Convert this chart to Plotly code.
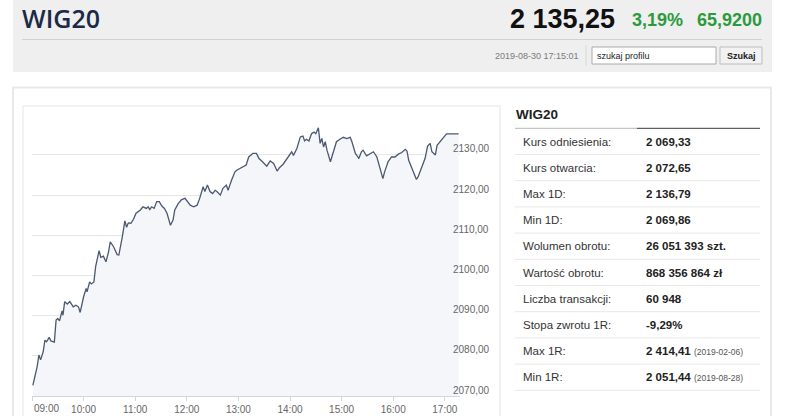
import plotly.graph_objects as go

# intraday WIG20 quotes
times = [
    '09:01', '09:05', '09:06', '09:08', '09:10', '09:13', '09:15', '09:17', '09:20', '09:22',
    '09:26', '09:28', '09:30', '09:32', '09:35', '09:36', '09:38', '09:41', '09:44', '09:48',
    '09:51', '09:54', '09:56', '10:00', '10:03', '10:04', '10:07', '10:09', '10:12', '10:14',
    '10:18', '10:20', '10:23', '10:26', '10:29', '10:31', '10:35', '10:39', '10:41', '10:45',
    '10:48', '10:50', '10:52', '10:55', '10:58', '11:01', '11:04', '11:06', '11:09', '11:13',
    '11:15', '11:17', '11:19', '11:22', '11:25', '11:28', '11:31', '11:34', '11:37', '11:40',
    '11:41', '11:44', '11:46', '11:50', '11:54', '11:58', '12:01', '12:04', '12:08', '12:12',
    '12:15', '12:19', '12:21', '12:24', '12:27', '12:30', '12:33', '12:35', '12:39', '12:42',
    '12:46', '12:48', '12:52', '12:56', '12:58', '13:02', '13:06', '13:09', '13:12', '13:17',
    '13:21', '13:24', '13:28', '13:33', '13:37', '13:41', '13:45', '13:48', '13:52', '13:58',
    '14:02', '14:04', '14:08', '14:12', '14:15', '14:17', '14:19', '14:22', '14:25', '14:28',
    '14:30', '14:33', '14:35', '14:37', '14:39', '14:41', '14:43', '14:47', '14:50', '14:54',
    '14:58', '15:02', '15:06', '15:10', '15:12', '15:16', '15:19', '15:20', '15:23', '15:25',
    '15:29', '15:33', '15:37', '15:41', '15:45', '15:48', '15:50', '15:54', '15:58', '16:02',
    '16:06', '16:10', '16:14', '16:16', '16:18', '16:21', '16:23', '16:27', '16:29', '16:33',
    '16:37', '16:40', '16:43', '16:45', '16:49', '16:51', '16:56', '17:02', '17:16',
]
prices = [
    2072.65, 2076.5, 2077.3, 2080.2, 2079.0, 2081.0, 2083.9, 2083.5, 2084.6, 2083.7,
    2083.4, 2088.9, 2089.3, 2088.7, 2091.2, 2090.1, 2093.5, 2092.9, 2093.5, 2092.2,
    2092.6, 2092.2, 2090.8, 2094.7, 2096.8, 2095.9, 2098.4, 2097.9, 2098.4, 2102.2,
    2106.2, 2104.5, 2104.8, 2103.4, 2105.9, 2108.4, 2107.1, 2105.2, 2105.1, 2109.6,
    2113.6, 2112.0, 2113.1, 2113.0, 2114.0, 2115.5, 2115.9, 2116.3, 2117.1, 2116.7,
    2117.1, 2116.4, 2117.1, 2116.7, 2118.4, 2118.4, 2117.3, 2116.7, 2115.5, 2113.0,
    2112.5, 2113.8, 2116.3, 2117.9, 2118.9, 2119.2, 2118.4, 2117.5, 2117.1, 2117.5,
    2119.2, 2122.1, 2120.9, 2122.5, 2120.9, 2120.4, 2121.2, 2120.9, 2120.0, 2121.7,
    2122.5, 2121.2, 2123.7, 2125.8, 2126.2, 2126.6, 2127.0, 2127.5, 2129.5, 2130.4,
    2130.4, 2129.1, 2128.3, 2127.2, 2128.5, 2127.9, 2126.0, 2126.9, 2127.7, 2129.5,
    2130.8, 2129.9, 2131.6, 2134.5, 2134.7, 2133.5, 2133.9, 2133.5, 2135.3, 2135.7,
    2135.3, 2136.79, 2132.9, 2134.1, 2132.0, 2133.3, 2131.2, 2128.3, 2130.4, 2133.3,
    2133.9, 2134.4, 2134.1, 2134.4, 2133.3, 2130.4, 2129.5, 2129.1, 2130.8, 2131.2,
    2129.8, 2130.4, 2130.8, 2129.5, 2126.2, 2124.1, 2125.8, 2128.3, 2129.5, 2129.5,
    2130.2, 2130.6, 2131.4, 2131.0, 2128.7, 2127.2, 2125.8, 2123.9, 2124.6, 2127.1,
    2129.1, 2132.2, 2132.9, 2130.8, 2130.0, 2132.4, 2133.7, 2135.25, 2135.25,
]

hour_ticks = ['09:00', '10:00', '11:00', '12:00', '13:00', '14:00', '15:00', '16:00', '17:00']
price_ticks = [2070, 2080, 2090, 2100, 2110, 2120, 2130, 2140]
price_labels = ['2070,00', '2080,00', '2090,00', '2100,00', '2110,00', '2120,00', '2130,00', '']

quote_name = 'WIG20'
last_value = '2 135,25'
change_pct = '3,19%'
change_abs = '65,9200'
quote_time = '2019-08-30 17:15:01'

table_labels = ['Kurs odniesienia:', 'Kurs otwarcia:', 'Max 1D:', 'Min 1D:', 'Wolumen obrotu:',
                'Wartość obrotu:', 'Liczba transakcji:', 'Stopa zwrotu 1R:', 'Max 1R:', 'Min 1R:']
table_values = ['2 069,33', '2 072,65', '2 136,79', '2 069,86', '26 051 393 szt.',
                '868 356 864 zł', '60 948', '-9,29%', '2 414,41', '2 051,44']
table_notes = ['', '', '', '', '', '', '', '', '(2019-02-06)', '(2019-08-28)']

DAY = '2019-08-30 '
W, H = 786, 416


# screen pixels -> paper coordinates
def px(x):
    return x / W


def py(y):
    return 1 - y / H


fig = go.Figure()

fig.add_trace(go.Scatter(x=[DAY + t for t in times], y=prices, mode='lines',
                         line=dict(color='#4a5870', width=1.3),
                         fill='tozeroy', fillcolor='#f4f6f9', hoverinfo='skip'))

shapes = []
# header block
shapes.append(dict(type='rect', xref='paper', yref='paper', x0=px(13), x1=px(772), y0=py(72), y1=py(-2),
                   fillcolor='#efefef', line=dict(width=0), layer='below'))
shapes.append(dict(type='line', xref='paper', yref='paper', x0=px(22), x1=px(762), y0=py(39.5), y1=py(39.5),
                   line=dict(color='#d2d2d2', width=1)))
shapes.append(dict(type='line', xref='paper', yref='paper', x0=px(586), x1=px(586), y0=py(45), y1=py(66),
                   line=dict(color='#d8d8d8', width=1)))
shapes.append(dict(type='rect', xref='paper', yref='paper', x0=px(592), x1=px(716), y0=py(64), y1=py(47),
                   fillcolor='white', line=dict(color='#a9a9a9', width=1)))
shapes.append(dict(type='rect', xref='paper', yref='paper', x0=px(720), x1=px(762), y0=py(64), y1=py(47),
                   fillcolor='#f2f2f2', line=dict(color='#bdbdbd', width=1)))
# panel borders
shapes.append(dict(type='rect', xref='paper', yref='paper', x0=px(13), x1=px(771), y0=py(430), y1=py(87.5),
                   line=dict(color='#e9e9e9', width=2), layer='below'))
shapes.append(dict(type='rect', xref='paper', yref='paper', x0=px(23), x1=px(500), y0=py(430), y1=py(106),
                   line=dict(color='#eeeeee', width=1.5), layer='below'))
# table lines
shapes.append(dict(type='line', xref='paper', yref='paper', x0=px(515), x1=px(637), y0=py(128.3), y1=py(128.3),
                   line=dict(color='#c4c4c4', width=1.2)))
shapes.append(dict(type='line', xref='paper', yref='paper', x0=px(637), x1=px(760), y0=py(128.3), y1=py(128.3),
                   line=dict(color='#606060', width=1.2)))

annotations = []
annotations.append(dict(text=quote_name, x=px(20), y=py(18), xanchor='left', yanchor='middle',
                        font=dict(family='Open Sans', size=25, color='#1b2a47', weight=600)))
annotations.append(dict(text='<b>' + last_value + '</b>', x=px(617), y=py(19), xanchor='right', yanchor='middle',
                        font=dict(family='Liberation Sans', size=27, color='#111111')))
annotations.append(dict(text='<b>' + change_pct + '</b>', x=px(630), y=py(20), xanchor='left', yanchor='middle',
                        font=dict(family='Liberation Sans', size=18, color='#2b9a3e')))
annotations.append(dict(text='<b>' + change_abs + '</b>', x=px(764), y=py(20), xanchor='right', yanchor='middle',
                        font=dict(family='Liberation Sans', size=18, color='#2b9a3e')))
annotations.append(dict(text=quote_time, x=px(581), y=py(55.5), xanchor='right', yanchor='middle',
                        font=dict(family='Liberation Sans', size=9, color='#7a7a7a')))
annotations.append(dict(text='szukaj profilu', x=px(595), y=py(55.5), xanchor='left', yanchor='middle',
                        font=dict(family='Liberation Sans', size=9, color='#222222')))
annotations.append(dict(text='<b>Szukaj</b>', x=px(741), y=py(56), xanchor='center', yanchor='middle',
                        font=dict(family='Liberation Sans', size=9, color='#222222')))
annotations.append(dict(text='<b>' + quote_name + '</b>', x=px(514), y=py(114.5), xanchor='left', yanchor='middle',
                        font=dict(family='Liberation Sans', size=13.5, color='#222222')))

row_y = 141.7
for label, value, note in zip(table_labels, table_values, table_notes):
    annotations.append(dict(text=label, x=px(521), y=py(row_y), xanchor='left', yanchor='middle',
                            font=dict(family='Liberation Sans', size=11.5, color='#333333')))
    txt = '<b>' + value + '</b>'
    if note:
        txt += ' <span style="font-size:8.5px;color:#555555">' + note + '</span>'
    annotations.append(dict(text=txt, x=px(644), y=py(row_y), xanchor='left', yanchor='middle',
                            font=dict(family='Liberation Sans', size=11.5, color='#222222')))
    shapes.append(dict(type='line', xref='paper', yref='paper', x0=px(515), x1=px(760),
                       y0=py(row_y + 12.8), y1=py(row_y + 12.8), line=dict(color='#e8e8e8', width=1)))
    row_y += 26.2

for a in annotations:
    a.update(xref='paper', yref='paper', showarrow=False)

# first hour label sits to the right of its tick, like the original
annotations.append(dict(text=hour_ticks[0], x=DAY + hour_ticks[0], xref='x', y=py(401), yref='paper',
                        xanchor='left', yanchor='top', showarrow=False,
                        font=dict(family='Liberation Sans', size=10, color='#666666')))

fig.update_layout(
    width=W, height=H, margin=dict(l=0, r=0, t=0, b=0),
    paper_bgcolor='white', plot_bgcolor='rgba(0,0,0,0)',
    showlegend=False, shapes=shapes, annotations=annotations,
    xaxis=dict(type='date', domain=[px(32), px(460)],
               range=[DAY + '09:00', DAY + '17:17:40'],
               tickvals=[DAY + t for t in hour_ticks], ticktext=[''] + hour_ticks[1:],
               tickfont=dict(family='Liberation Sans', size=10, color='#666666'),
               ticks='outside', ticklen=4, tickcolor='#ccd6eb',
               showline=True, linecolor='#ccd6eb', linewidth=1,
               showgrid=False, zeroline=False, fixedrange=True),
    yaxis=dict(domain=[py(396), py(114)], range=[2070, 2140.2],
               side='right', anchor='free', position=px(452),
               tickvals=price_ticks, ticktext=price_labels, ticklabelshift=-6,
               tickfont=dict(family='Liberation Sans', size=10, color='#666666'),
               gridcolor='#e6e6e6', gridwidth=1, showline=False, ticks='',
               zeroline=False, fixedrange=True),
)

# page margin off so the figure sits at the window's corner
fig.write_html('out.html', config={'displayModeBar': False},
               post_script="document.body.style.margin='0';document.body.style.overflow='hidden';")
